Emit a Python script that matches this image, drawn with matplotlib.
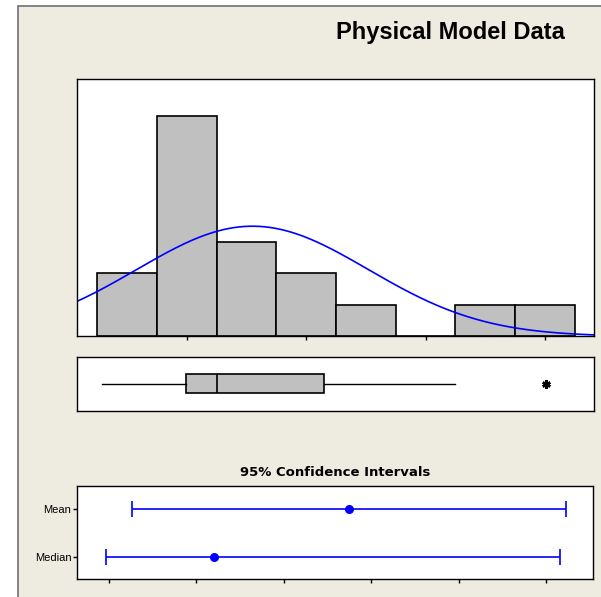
import numpy as np
import matplotlib
matplotlib.use("Agg")
import matplotlib.pyplot as plt
from matplotlib.patches import Rectangle

plt.rcParams["font.family"] = ["Liberation Sans", "DejaVu Sans"]

# histogram (bin midpoints, counts)
bin_mids = [5, 10, 15, 20, 25, 30, 35, 40]
counts = [2, 7, 3, 2, 1, 0, 1, 1]
bin_width = 5
hist_ticks = [10, 20, 30, 40]

# fitted normal curve
fit_mean = 15.5
fit_sd = 9.7
n_obs = 17

# boxplot summary
box_whislo = 2.9
box_q1 = 9.9
box_med = 12.5
box_q3 = 21.5
box_whishi = 32.5
box_fliers = [40.1]

# 95% confidence intervals
ci_labels = ["Median", "Mean"]
ci_centers = [12.42, 15.49]
ci_low = [9.94, 10.54]
ci_high = [20.32, 20.46]
ci_ticks = [10, 12, 14, 16, 18, 20]

W, H = 601, 597
fig = plt.figure(figsize=(W / 100, H / 100), dpi=100)
fig.patch.set_facecolor("white")

# beige panel with grey border
panel = Rectangle((18 / W, -0.1), 1.2, (H - 6) / H + 0.1, transform=fig.transFigure,
                  facecolor="#eeebe1", edgecolor="#707070", lw=1.2, zorder=-10)
fig.patches.append(panel)

fig.text(565 / W, 1 - 33 / H, "Physical Model Data", ha="right", va="center",
         fontsize=17, fontweight="bold")

xlo, xhi = 0.8, 44.1

# Histogram
ax1 = fig.add_axes([77 / W, (H - 336.3) / H, 517 / W, 257.3 / H])
ax1.bar(bin_mids, counts, width=bin_width, color="#c0c0c0", edgecolor="black", lw=1.2)
xs = np.linspace(xlo, xhi, 400)
dens = n_obs * bin_width / (fit_sd * np.sqrt(2 * np.pi)) * np.exp(-0.5 * ((xs - fit_mean) / fit_sd) ** 2)
ax1.plot(xs, dens, color="#0000ff", lw=1.2)
ax1.set_xlim(xlo, xhi)
ax1.set_ylim(0, 8.17)
ax1.set_xticks(hist_ticks)
ax1.set_xticklabels([])
ax1.set_yticks([])
ax1.tick_params(axis="x", direction="out", length=3, width=1)
for s in ax1.spines.values():
    s.set_linewidth(1.0)

# Boxplot
ax2 = fig.add_axes([77 / W, (H - 410.5) / H, 517 / W, 53.8 / H])
stats = [{"whislo": box_whislo, "q1": box_q1, "med": box_med, "q3": box_q3,
          "whishi": box_whishi, "fliers": box_fliers}]
ax2.bxp(stats, positions=[0.5], widths=0.345, vert=False, patch_artist=True,
        showcaps=False,
        boxprops=dict(facecolor="#c0c0c0", edgecolor="black", lw=1.2),
        medianprops=dict(color="black", lw=1.2),
        whiskerprops=dict(color="black", lw=1.0),
        flierprops=dict(marker=(6, 2, 0), markeredgecolor="black",
                        markersize=6, markeredgewidth=1.8))
ax2.set_xlim(xlo, xhi)
ax2.set_ylim(0, 1)
ax2.set_xticks([])
ax2.set_yticks([])
for s in ax2.spines.values():
    s.set_linewidth(1.0)

# Confidence intervals
ax3 = fig.add_axes([77 / W, 17.7 / H, 516 / W, 93.6 / H])
ypos = [1, 2]
for y, c, lo, hi in zip(ypos, ci_centers, ci_low, ci_high):
    ax3.errorbar(c, y, xerr=[[c - lo], [hi - c]], fmt="o", color="#0000ff",
                 markersize=5.5, capsize=6, elinewidth=1.2, capthick=1.2)
ax3.set_xlim(9.28, 21.07)
ax3.set_ylim(0.53, 2.48)
ax3.set_yticks(ypos)
ax3.set_yticklabels(ci_labels, fontsize=8)
ax3.set_xticks(ci_ticks)
ax3.set_xticklabels([])
ax3.tick_params(direction="out", length=3, width=1, pad=1)
for s in ax3.spines.values():
    s.set_linewidth(1.0)
fig.text(335.6 / W, 1 - 473 / H, "95% Confidence Intervals", ha="center", va="center",
         fontsize=9.5, fontweight="bold", family="DejaVu Sans")

fig.savefig("out.png", dpi=100)
